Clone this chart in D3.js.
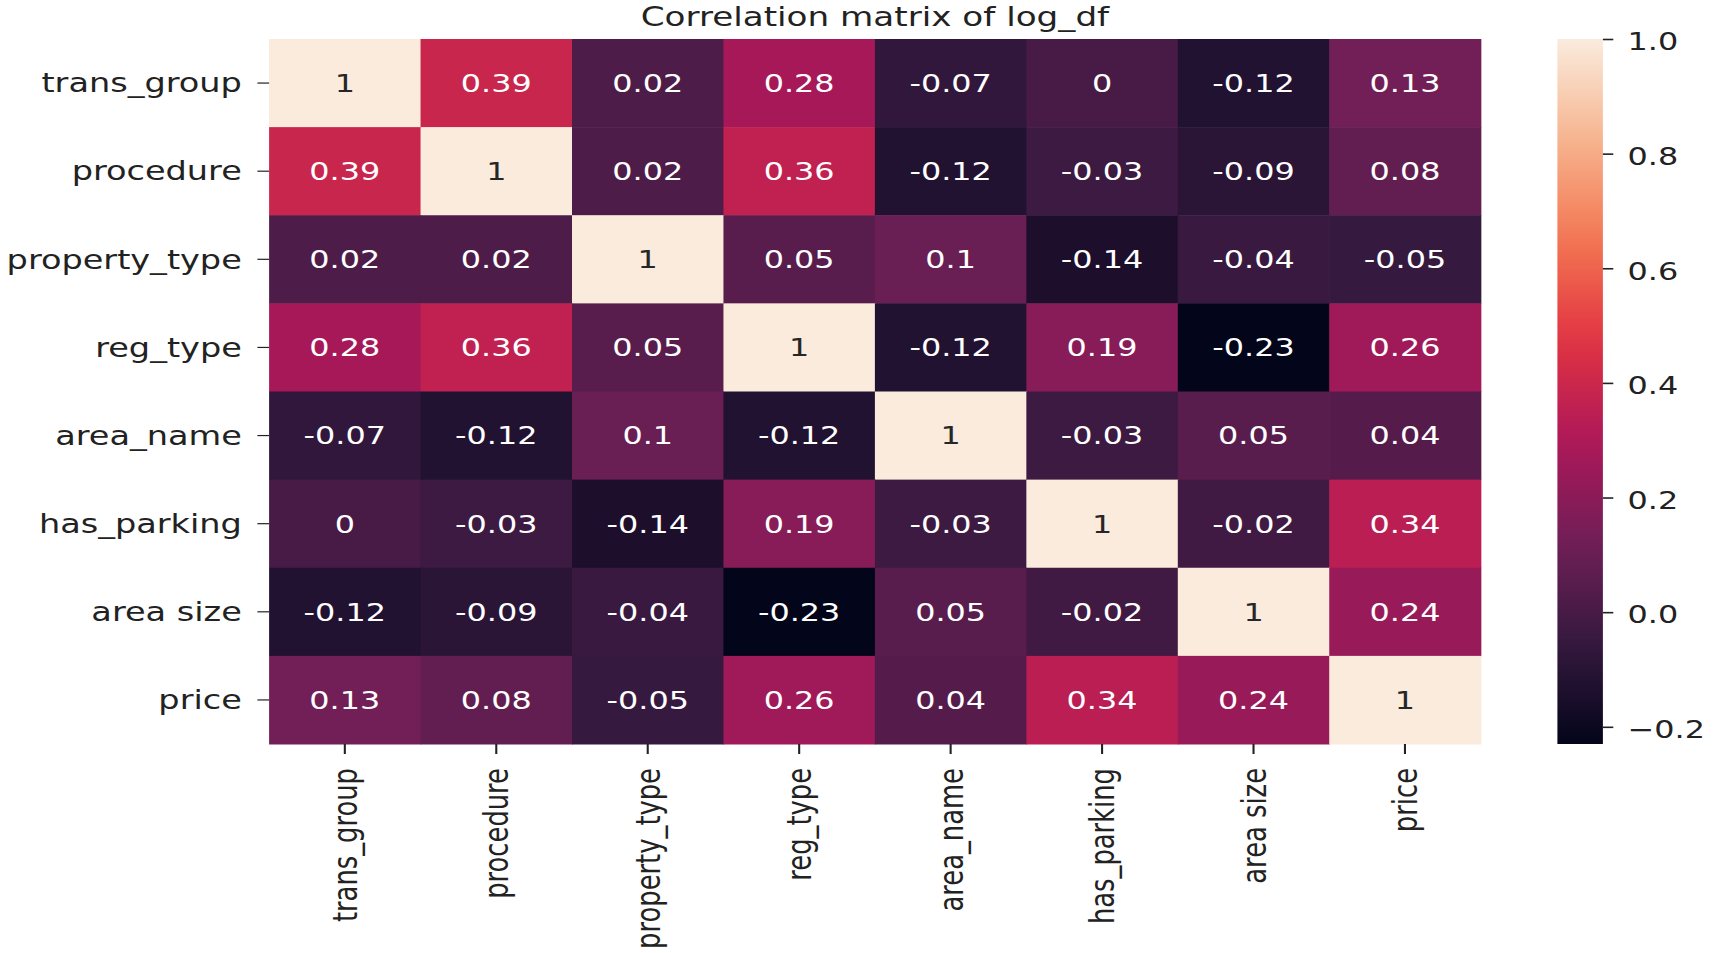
<!DOCTYPE html>
<html>
<head>
  <meta charset="utf-8">
  <script src="https://d3js.org/d3.v7.min.js"></script>
  <style>
    body { margin: 0; background: #fff; }
    text { font-family: "DejaVu Sans", sans-serif; }
  </style>
</head>
<body>
  <div id="chart"></div>

  <script type="text/javascript">
    "use strict";

    // variable names (rows and columns share the same order)
    var labels = ["trans_group", "procedure", "property_type", "reg_type",
                  "area_name", "has_parking", "area size", "price"];

    // correlation rows
    var r_trans_group   = [1, 0.39, 0.02, 0.28, -0.07, 0, -0.12, 0.13];
    var r_procedure     = [0.39, 1, 0.02, 0.36, -0.12, -0.03, -0.09, 0.08];
    var r_property_type = [0.02, 0.02, 1, 0.05, 0.1, -0.14, -0.04, -0.05];
    var r_reg_type      = [0.28, 0.36, 0.05, 1, -0.12, 0.19, -0.23, 0.26];
    var r_area_name     = [-0.07, -0.12, 0.1, -0.12, 1, -0.03, 0.05, 0.04];
    var r_has_parking   = [0, -0.03, -0.14, 0.19, -0.03, 1, -0.02, 0.34];
    var r_area_size     = [-0.12, -0.09, -0.04, -0.23, 0.05, -0.02, 1, 0.24];
    var r_price         = [0.13, 0.08, -0.05, 0.26, 0.04, 0.34, 0.24, 1];

    var cbarTicks = [-0.2, 0.0, 0.2, 0.4, 0.6, 0.8, 1.0];

    var matrix = [r_trans_group, r_procedure, r_property_type, r_reg_type,
                  r_area_name, r_has_parking, r_area_size, r_price];

    // the picture is stretched sideways, so draw in a narrower box and stretch it
    var SX = 1.3;
    var W = 1713, H = 953;
    var VW = W / SX;

    var mLeft = 207, mRight = 1139, mTop = 39, mBottom = 744;
    var fs = 24.5;      // cell numbers and colorbar
    var lfs = 25.8;     // axis labels

    var svg = d3.select("#chart").append("svg")
      .attr("width", W)
      .attr("height", H)
      .attr("viewBox", "0 0 " + VW + " " + H)
      .attr("preserveAspectRatio", "none");

    // rocket colormap stops
    var rocketStops = ["#03051a", "#35193e", "#701f57", "#ad1759",
                       "#e13342", "#f37651", "#f6b48f", "#faebdd"];
    var rocketPos = [0, 1/7, 2/7, 3/7, 4/7, 5/7, 6/7, 1];
    var rocket = d3.scaleLinear().domain(rocketPos).range(rocketStops)
      .interpolate(d3.interpolateRgb).clamp(true);

    var cells = [];
    matrix.forEach(function(row, i) {
      row.forEach(function(v, j) {
        cells.push({row: labels[i], col: labels[j], value: v});
      });
    });

    var vmin = d3.min(cells, function(d) { return d.value; });
    var vmax = d3.max(cells, function(d) { return d.value; });
    var norm = d3.scaleLinear().domain([vmin, vmax]).range([0, 1]);
    function color(v) { return rocket(norm(v)); }

    var x = d3.scaleBand().domain(labels).range([mLeft, mRight]);
    var y = d3.scaleBand().domain(labels).range([mTop, mBottom]);

    // cells
    svg.append("g").selectAll("rect")
      .data(cells).enter().append("rect")
      .attr("x", function(d) { return x(d.col); })
      .attr("y", function(d) { return y(d.row); })
      .attr("width", x.bandwidth() + 0.5)
      .attr("height", y.bandwidth() + 0.5)
      .attr("fill", function(d) { return color(d.value); });

    // annotations, dark on light cells and white on dark ones
    function lum(c) {
      var rgb = d3.rgb(c);
      var f = function(u) { u = u / 255; return u <= 0.03928 ? u / 12.92 : Math.pow((u + 0.055) / 1.055, 2.4); };
      return 0.2126 * f(rgb.r) + 0.7152 * f(rgb.g) + 0.0722 * f(rgb.b);
    }
    svg.append("g").selectAll("text")
      .data(cells).enter().append("text")
      .attr("x", function(d) { return x(d.col) + x.bandwidth() / 2; })
      .attr("y", function(d) { return y(d.row) + y.bandwidth() / 2; })
      .attr("dy", "0.36em")
      .attr("text-anchor", "middle")
      .style("font-size", fs + "px")
      .attr("fill", function(d) { return lum(color(d.value)) > 0.408 ? "#262626" : "#ffffff"; })
      .text(function(d) { return String(d.value); });

    // y labels and ticks
    var yAxis = svg.append("g");
    labels.forEach(function(l) {
      var cy = y(l) + y.bandwidth() / 2;
      yAxis.append("line")
        .attr("x1", mLeft - 9).attr("x2", mLeft)
        .attr("y1", cy).attr("y2", cy)
        .attr("stroke", "#222").attr("stroke-width", 1.2);
      yAxis.append("text")
        .attr("x", mLeft - 21).attr("y", cy)
        .attr("dy", "0.36em")
        .attr("text-anchor", "end")
        .style("font-size", lfs + "px")
        .attr("fill", "#222")
        .text(l);
    });

    // x labels and ticks
    var xAxis = svg.append("g");
    labels.forEach(function(l) {
      var cx = x(l) + x.bandwidth() / 2;
      xAxis.append("line")
        .attr("x1", cx).attr("x2", cx)
        .attr("y1", mBottom).attr("y2", mBottom + 10)
        .attr("stroke", "#222").attr("stroke-width", 1.6);
      xAxis.append("text")
        .attr("transform", "translate(" + cx + "," + (mBottom + 24) + ") rotate(-90)")
        .attr("dy", "0.36em")
        .attr("text-anchor", "end")
        .style("font-size", lfs + "px")
        .attr("fill", "#222")
        .text(l);
    });

    // title
    svg.append("text")
      .attr("x", (mLeft + mRight) / 2)
      .attr("y", 26)
      .attr("text-anchor", "middle")
      .style("font-size", "26.3px")
      .attr("fill", "#222")
      .text("Correlation matrix of log_df");

    // colorbar
    var cbX = 1198, cbW = 35;
    var cbScale = d3.scaleLinear().domain([vmin, vmax]).range([mBottom, mTop]);

    var grad = svg.append("defs").append("linearGradient")
      .attr("id", "cbar")
      .attr("x1", "0").attr("y1", "1").attr("x2", "0").attr("y2", "0");
    d3.range(0, 1.0001, 0.05).forEach(function(t) {
      grad.append("stop")
        .attr("offset", t)
        .attr("stop-color", rocket(t));
    });

    svg.append("rect")
      .attr("x", cbX).attr("y", mTop)
      .attr("width", cbW).attr("height", mBottom - mTop)
      .attr("fill", "url(#cbar)");

    var cbAxis = d3.axisRight(cbScale)
      .tickValues(cbarTicks)
      .tickFormat(d3.format(".1f"))
      .tickSize(8)
      .tickPadding(11);

    var cbG = svg.append("g")
      .attr("transform", "translate(" + (cbX + cbW) + ",0)")
      .call(cbAxis);
    cbG.select(".domain").remove();
    cbG.selectAll(".tick line").attr("stroke", "#222").attr("stroke-width", 1.6);
    cbG.selectAll(".tick text")
      .attr("dy", "0.44em")
      .style("font-size", fs + "px")
      .style("font-family", "DejaVu Sans")
      .attr("fill", "#222");
  </script>
</body>
</html>
